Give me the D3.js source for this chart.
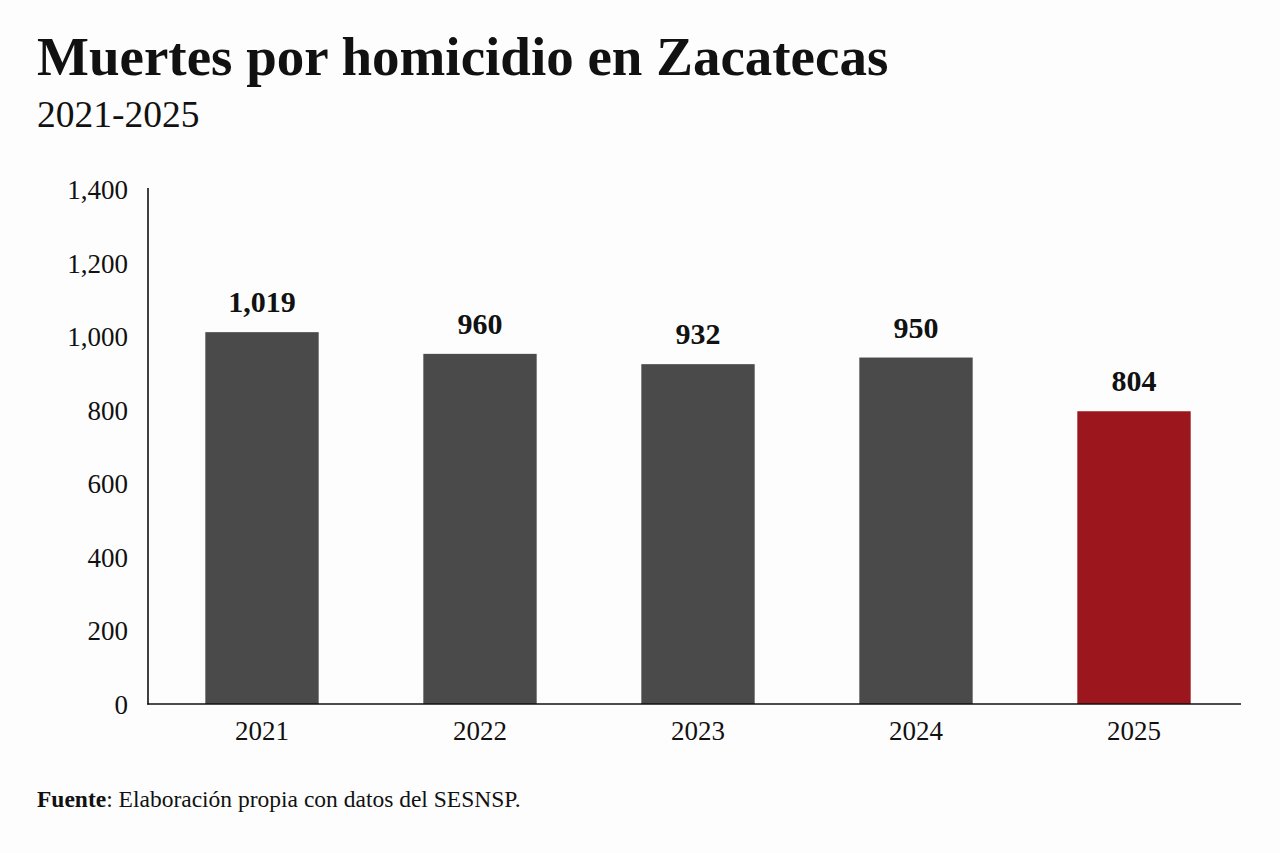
<!DOCTYPE html>
<html><head><meta charset="utf-8">
<script src="https://cdn.jsdelivr.net/npm/d3@7"></script>
<style>
html,body{margin:0;padding:0;background:#fdfdfd;}
svg{display:block;}
text{font-family:"Liberation Serif","Times New Roman",serif;fill:#111;}
</style></head>
<body>
<svg id="chart" width="1280" height="853"></svg>
<script>
const categories = ["2021","2022","2023","2024","2025"];
const values = [1019, 960, 932, 950, 804];
const yTicks = [0,200,400,600,800,1000,1200,1400];
const barColors = ["#4a4a4a","#4a4a4a","#4a4a4a","#4a4a4a","#9b171d"];

const svg = d3.select("#chart");
svg.append("rect").attr("width",1280).attr("height",853).attr("fill","#fdfdfd");

svg.append("text").attr("x",37).attr("y",75)
  .style("font-size","55px").style("font-weight","bold")
  .text("Muertes por homicidio en Zacatecas");
svg.append("text").attr("x",37).attr("y",127)
  .style("font-size","37.5px")
  .text("2021-2025");

const x = d3.scaleBand().domain(categories).range([153,1243]).paddingInner(0.48).paddingOuter(0.24);
const y = d3.scaleLinear().domain([0,1400]).range([704,189]);
const fmt = d3.format(",");

// bars
svg.append("g").selectAll("rect").data(values).join("rect")
  .attr("x",(d,i)=>x(categories[i]))
  .attr("width",x.bandwidth())
  .attr("y",d=>y(d)+3)
  .attr("height",d=>y(0)-y(d)-3)
  .attr("fill",(d,i)=>barColors[i]);

// value labels
svg.append("g").selectAll("text").data(values).join("text")
  .attr("x",(d,i)=>x(categories[i])+x.bandwidth()/2)
  .attr("y",d=>y(d)-17)
  .attr("text-anchor","middle")
  .style("font-size","30px").style("font-weight","bold")
  .text(d=>fmt(d));

// y axis
const yAxis = d3.axisLeft(y).tickValues(yTicks).tickFormat(fmt).tickSize(0).tickPadding(0);
const gy = svg.append("g").attr("transform","translate(128,0)").call(yAxis);
gy.select(".domain").remove();
gy.selectAll("text").style("font-size","27px").attr("dy","0.35em")
  .style("font-family","'Liberation Serif','Times New Roman',serif").attr("fill","#111");

svg.append("line").attr("x1",148).attr("x2",148).attr("y1",188).attr("y2",704.5)
  .attr("stroke","#111").attr("stroke-width",1.6);

// x axis
const xAxis = d3.axisBottom(x).tickSize(0).tickPadding(0);
const gx = svg.append("g").attr("transform","translate(0,740)").call(xAxis);
gx.select(".domain").remove();
gx.selectAll("text").attr("dy","0").style("font-size","27px")
  .style("font-family","'Liberation Serif','Times New Roman',serif").attr("fill","#111");

svg.append("line").attr("x1",147.2).attr("x2",1241).attr("y1",704).attr("y2",704)
  .attr("stroke","#111").attr("stroke-width",1.6);

// footer
const f = svg.append("text").attr("x",37).attr("y",807).style("font-size","23.5px");
f.append("tspan").style("font-weight","bold").text("Fuente");
f.append("tspan").text(": Elaboración propia con datos del SESNSP.");
</script>
</body></html>
